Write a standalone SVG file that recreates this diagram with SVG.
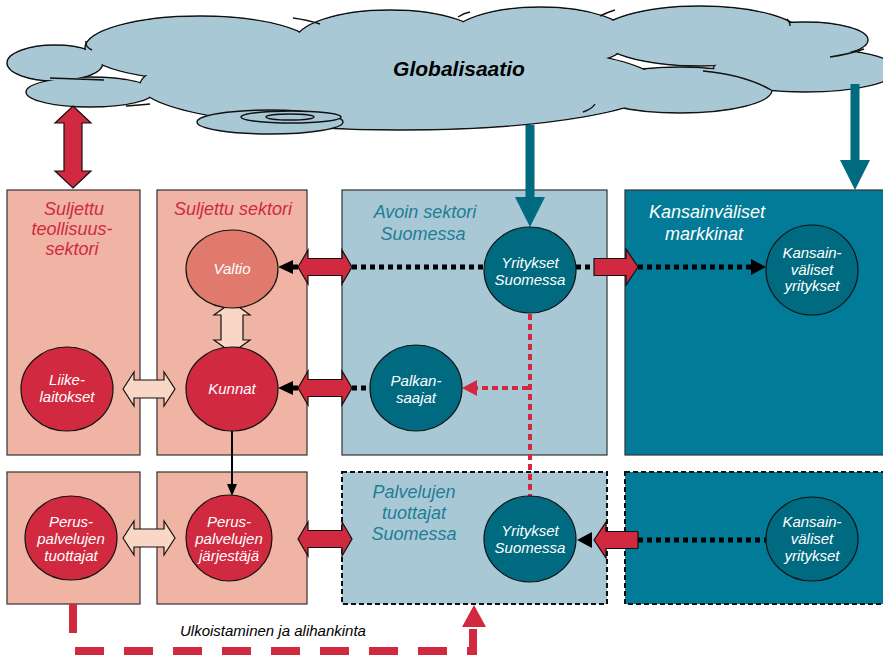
<svg xmlns="http://www.w3.org/2000/svg" width="883" height="656" viewBox="0 0 883 656">
  <style>
    text { font-family: "Liberation Sans", Arial, sans-serif; font-style: italic; }
    .box { stroke: #333; stroke-width: 1.2; }
    .salmon { fill: #EFB4A3; }
    .light { fill: #A9C8D5; }
    .teal { fill: #017B97; }
    .dashbox { stroke: #111; stroke-width: 2; stroke-dasharray: 5 3; }
    .node { stroke: #111; stroke-width: 1.2; }
    .red { fill: #D1293F; }
    .dark { fill: #006A80; }
    .valtio { fill: #E07A6C; }
    .lbl { fill: #fff; font-size: 15px; text-anchor: middle; }
    .ttl { font-size: 18px; text-anchor: middle; }
    .ttl-red { fill: #D1293F; }
    .ttl-teal { fill: #1F7D95; }
    .ttl-white { fill: #fff; }
    .blk { stroke: #111; stroke-width: 1.2; stroke-linejoin: miter; }
    .beige { fill: #F9D6C6; }
    .dots { stroke: #000; stroke-width: 5; stroke-dasharray: 5 4; fill: none; }
    .rdots { stroke: #D1293F; stroke-width: 4; stroke-dasharray: 6 4; fill: none; }
    .cloud-s { fill: #A9C8D5; stroke: #111; stroke-width: 1.4; }
    .cloud-f { fill: #A9C8D5; }
    .crease { fill: none; stroke: #111; stroke-width: 1.4; }
  </style>

  <!-- cloud -->
  <g id="globalisaatio">
    <g class="cloud-s">
      <ellipse cx="55" cy="63" rx="48" ry="18"/>
      <ellipse cx="90" cy="92" rx="64" ry="15"/>
      <ellipse cx="200" cy="48" rx="115" ry="32"/>
      <ellipse cx="390" cy="42" rx="95" ry="32"/>
      <ellipse cx="540" cy="38" rx="90" ry="31"/>
      <ellipse cx="700" cy="36" rx="102" ry="30"/>
      <ellipse cx="805" cy="40" rx="63" ry="18"/>
      <ellipse cx="805" cy="70" rx="92" ry="22"/>
      <ellipse cx="680" cy="90" rx="92" ry="23"/>
      <ellipse cx="400" cy="85" rx="260" ry="45"/>
    </g>
    <g class="cloud-f">
      <ellipse cx="55" cy="63" rx="47" ry="17"/>
      <ellipse cx="90" cy="92" rx="63" ry="14"/>
      <ellipse cx="200" cy="48" rx="114" ry="31"/>
      <ellipse cx="390" cy="42" rx="94" ry="31"/>
      <ellipse cx="540" cy="38" rx="89" ry="30"/>
      <ellipse cx="700" cy="36" rx="101" ry="29"/>
      <ellipse cx="805" cy="40" rx="62" ry="17"/>
      <ellipse cx="805" cy="70" rx="91" ry="21"/>
      <ellipse cx="680" cy="90" rx="91" ry="22"/>
      <ellipse cx="400" cy="85" rx="259" ry="44"/>
    </g>
    <path class="crease" d="M50 78 Q80 79 104 80 M126 106 Q140 105 150 104 M86 41 Q85 47 92 50 M293 18 Q308 20 320 24 M458 17 Q464 13 470 12 M600 16 Q608 12 615 10 M787 19 Q790 22 790 26 M830 57 Q850 54 864 49 M703 71 Q745 75 771 90 M583 112 Q592 109 595 104"/>
    <g class="cloud-s">
      <ellipse cx="270" cy="122" rx="73" ry="12"/>
      <ellipse cx="291" cy="117" rx="50" ry="6"/>
      <ellipse cx="290" cy="117" rx="24" ry="3"/>
    </g>
    <text x="459" y="76" font-size="21" font-weight="bold" text-anchor="middle" fill="#000">Globalisaatio</text>
  </g>

  <!-- sector boxes -->
  <g id="suljettu-teollisuussektori">
    <rect class="box salmon" x="7" y="190" width="133" height="265"/>
    <text class="ttl ttl-red" x="74" y="215">Suljettu</text>
    <text class="ttl ttl-red" x="72" y="235">teollisuus-</text>
    <text class="ttl ttl-red" x="72" y="255">sektori</text>
  </g>
  <g id="suljettu-sektori">
    <rect class="box salmon" x="157" y="190" width="150" height="265"/>
    <text class="ttl ttl-red" x="233" y="215">Suljettu sektori</text>
  </g>
  <g id="avoin-sektori">
    <rect class="box light" x="342" y="190" width="265" height="265"/>
    <text class="ttl ttl-teal" x="425" y="218">Avoin sektori</text>
    <text class="ttl ttl-teal" x="423" y="240">Suomessa</text>
  </g>
  <g id="kansainvaliset-markkinat">
    <rect class="box teal" x="625" y="190" width="270" height="265"/>
    <text class="ttl ttl-white" x="707" y="218">Kansainväliset</text>
    <text class="ttl ttl-white" x="704" y="240">markkinat</text>
  </g>
  <g id="perus-tuottajat-box">
    <rect class="box salmon" x="7" y="472" width="133" height="132"/>
  </g>
  <g id="perus-jarjestaja-box">
    <rect class="box salmon" x="157" y="472" width="150" height="132"/>
  </g>
  <g id="palvelujen-tuottajat">
    <rect class="dashbox light" x="342" y="472" width="265" height="132"/>
    <text class="ttl ttl-teal" x="414" y="498">Palvelujen</text>
    <text class="ttl ttl-teal" x="414" y="519">tuottajat</text>
    <text class="ttl ttl-teal" x="414" y="540">Suomessa</text>
  </g>
  <g id="kansainvaliset-box-2">
    <rect class="dashbox teal" x="625" y="472" width="270" height="132"/>
  </g>

  <!-- connectors -->
  <g id="connectors">
    <!-- cloud to sectors -->
    <polygon class="blk red" points="73,106 91,123 82,123 82,171 91,171 73,188 55,171 64,171 64,123 55,123"/>
    <polygon fill="#006A80" points="525.5,125 534.5,125 534.5,197 545,197 530,227 515,197 525.5,197"/>
    <polygon fill="#006A80" points="850.5,84 859.5,84 859.5,160 870,160 855,190 840,160 850.5,160"/>

    <!-- top row -->
    <line class="dots" x1="352" y1="267" x2="484" y2="267"/>
    <polygon class="blk red" points="298,267 308,250 308,258.5 342,258.5 342,250 352,267 342,284 342,275.5 308,275.5 308,284"/>
    <polygon fill="#000" points="278,267 293,260 293,264.5 298,264.5 298,269.5 293,269.5 293,274"/>

    <line class="dots" x1="576" y1="267" x2="594" y2="267"/>
    <line class="dots" x1="638" y1="267" x2="752" y2="267"/>
    <polygon class="blk red" points="594,258.5 626,258.5 626,249 638,267 626,285 626,275.5 594,275.5"/>
    <polygon fill="#000" points="766,267 751,259 751,275"/>

    <!-- middle row -->
    <line class="dots" x1="352" y1="388" x2="371" y2="388"/>
    <polygon class="blk red" points="298,388 308,371 308,379.5 342,379.5 342,371 352,388 342,405 342,396.5 308,396.5 308,405"/>
    <polygon fill="#000" points="278,388 293,381 293,385.5 298,385.5 298,390.5 293,390.5 293,395"/>

    <polygon class="blk beige" points="123,389 134,372 134,380 164,380 164,372 175,389 164,406 164,398 134,398 134,406"/>
    <polygon class="blk beige" points="232,302 250,315 243,315 243,340 250,340 232,353 214,340 221,340 221,315 214,315"/>

    <line class="rdots" x1="530" y1="314" x2="530" y2="496"/>
    <line class="rdots" x1="528" y1="388" x2="476" y2="388"/>
    <polygon fill="#D1293F" points="462,388 477,380 477,396"/>

    <line x1="232" y1="431" x2="232" y2="485" stroke="#000" stroke-width="2"/>
    <polygon fill="#000" points="232,496 227,484 237,484"/>

    <!-- bottom row -->
    <polygon class="blk beige" points="123,538 134,521 134,529 164,529 164,521 175,538 164,555 164,547 134,547 134,555"/>
    <polygon class="blk red" points="298,539 308,522 308,530.5 342,530.5 342,522 352,539 342,556 342,547.5 308,547.5 308,556"/>

    <line class="dots" x1="638" y1="540" x2="766" y2="540"/>
    <polygon class="blk red" points="638,531.5 606,531.5 606,522 594,540 606,558 606,548.5 638,548.5"/>
    <polygon fill="#000" points="577,540 592,532 592,548"/>

    <!-- outsourcing -->
    <path d="M73 604 V651 H473 V629" fill="none" stroke="#D1293F" stroke-width="8" stroke-dasharray="29 20"/>
    <polygon fill="#D1293F" points="474,605 486,627 462,627"/>
    <text x="180" y="636" font-size="15" fill="#000">Ulkoistaminen ja alihankinta</text>
  </g>

  <!-- nodes -->
  <g id="valtio">
    <ellipse class="node valtio" cx="232" cy="269" rx="46" ry="39"/>
    <text class="lbl" x="232" y="274">Valtio</text>
  </g>
  <g id="kunnat">
    <ellipse class="node red" cx="232" cy="389" rx="46" ry="42"/>
    <text class="lbl" x="232" y="394">Kunnat</text>
  </g>
  <g id="liikelaitokset">
    <ellipse class="node red" cx="67" cy="389" rx="46" ry="42"/>
    <text class="lbl" x="67" y="385">Liike-</text>
    <text class="lbl" x="67" y="402">laitokset</text>
  </g>
  <g id="yritykset-suomessa">
    <ellipse class="node dark" cx="530" cy="270" rx="46" ry="43"/>
    <text class="lbl" x="530" y="268">Yritykset</text>
    <text class="lbl" x="530" y="285">Suomessa</text>
  </g>
  <g id="kansainvaliset-yritykset">
    <ellipse class="node dark" cx="812" cy="270" rx="46" ry="45"/>
    <text class="lbl" x="812" y="258">Kansain-</text>
    <text class="lbl" x="812" y="275">väliset</text>
    <text class="lbl" x="812" y="291">yritykset</text>
  </g>
  <g id="palkansaajat">
    <ellipse class="node dark" cx="416" cy="388" rx="46" ry="43"/>
    <text class="lbl" x="416" y="386">Palkan-</text>
    <text class="lbl" x="416" y="403">saajat</text>
  </g>
  <g id="peruspalvelujen-tuottajat">
    <ellipse class="node red" cx="71" cy="538" rx="46" ry="42"/>
    <text class="lbl" x="71" y="527" font-size="16">Perus-</text>
    <text class="lbl" x="71" y="544" font-size="16">palvelujen</text>
    <text class="lbl" x="71" y="561" font-size="16">tuottajat</text>
  </g>
  <g id="peruspalvelujen-jarjestaja">
    <ellipse class="node red" cx="229" cy="538" rx="43" ry="43"/>
    <text class="lbl" x="229" y="527" font-size="16">Perus-</text>
    <text class="lbl" x="229" y="544" font-size="16">palvelujen</text>
    <text class="lbl" x="229" y="561" font-size="16">järjestäjä</text>
  </g>
  <g id="yritykset-suomessa-2">
    <ellipse class="node dark" cx="530" cy="539" rx="46" ry="43"/>
    <text class="lbl" x="530" y="536">Yritykset</text>
    <text class="lbl" x="530" y="553">Suomessa</text>
  </g>
  <g id="kansainvaliset-yritykset-2">
    <ellipse class="node dark" cx="812" cy="539" rx="46" ry="42"/>
    <text class="lbl" x="812" y="527">Kansain-</text>
    <text class="lbl" x="812" y="544">väliset</text>
    <text class="lbl" x="812" y="561">yritykset</text>
  </g>
</svg>
